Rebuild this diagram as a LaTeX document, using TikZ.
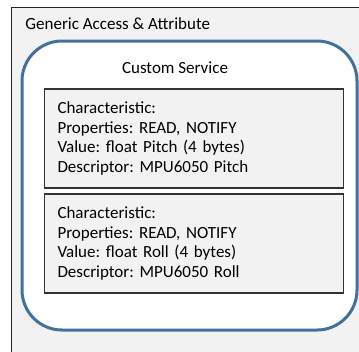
\documentclass[tikz,border=0pt]{standalone}
\usepackage{fontspec}
\setmainfont{Carlito}
\frenchspacing

\definecolor{gattgray}{HTML}{F2F2F2}
\definecolor{serviceblue}{HTML}{41719C}

\begin{document}
\begin{tikzpicture}[x=0.75pt,y=-0.75pt]
   \useasboundingbox (0,0) rectangle (359,351);
   \fontsize{12.75}{14.625}\selectfont
   \tikzstyle{profile}=[draw=black!85, fill=gattgray, line width=0.9pt, anchor=north west, minimum width=277.5pt, minimum height=277.5pt, inner sep=0pt]
   \tikzstyle{service}=[draw=serviceblue, fill=white, line width=2.25pt, rounded corners=30pt, minimum width=251.25pt, minimum height=216.75pt, inner sep=0pt]
   \tikzstyle{chr}=[draw=black!80, fill=gattgray, line width=1pt, minimum width=224.25pt, minimum height=74.25pt, inner xsep=9.75pt, text width=204.75pt, align=left]
   \node[profile] (gatt) at (11,7) {};
   \node[anchor=west] (gattlabel) at (19.5,24) {Generic Access \& Attribute};
   \node[service] (custom) at (189.5,185.5) {};
   \node (customlabel) at (175,68) {Custom Service};
   \foreach \y/\id/\word in {138.5/pitch/{Pitch}, 243.5/roll/{Roll}} {
       \node[chr] (\id) at (194,\y) {Characteristic:\\ Properties: READ, NOTIFY\\ Value: float \word{} (4 bytes)\\ Descriptor: MPU6050 \word};
   }
\end{tikzpicture}
\end{document}
